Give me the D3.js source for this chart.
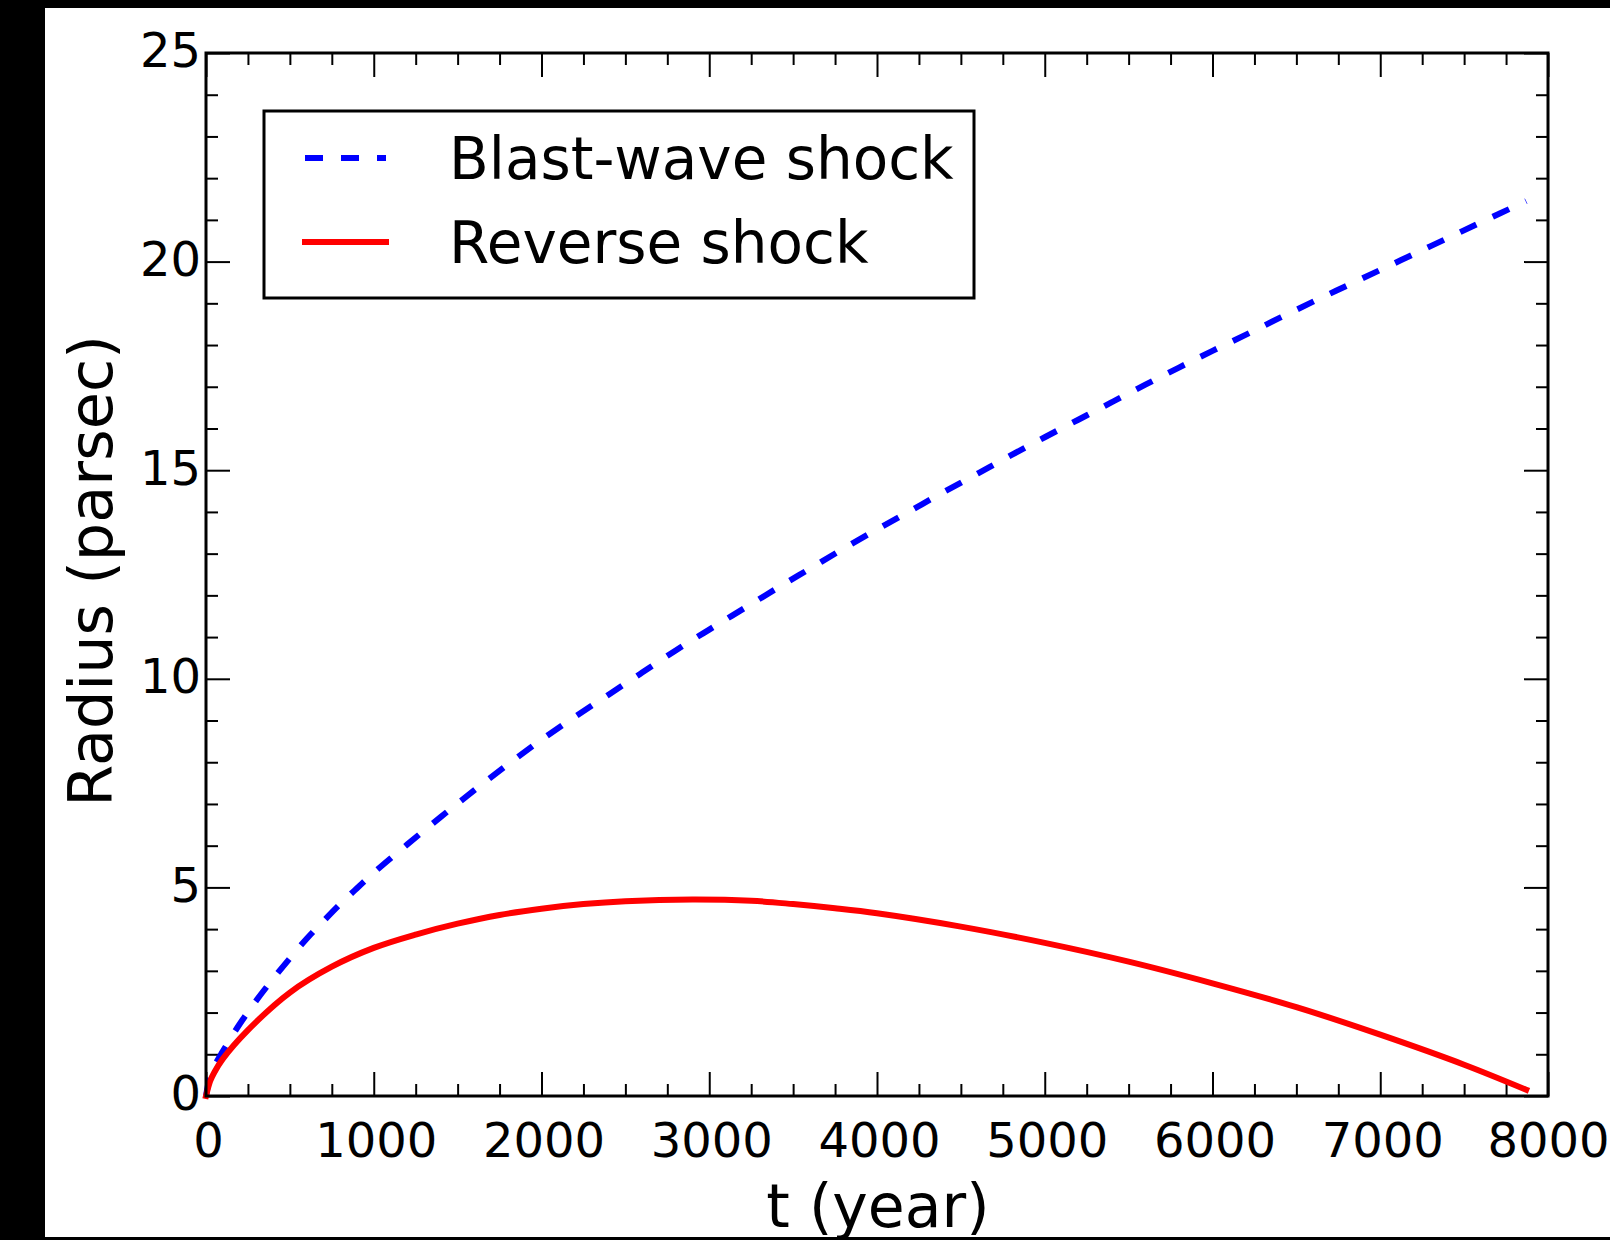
<!DOCTYPE html>
<html>
<head>
<meta charset="utf-8">
<script src="https://cdn.jsdelivr.net/npm/d3@7"></script>
<style>
  body { margin: 0; background: #000; }
  svg { display: block; }
</style>
</head>
<body>
<div id="chart"></div>
<script>
// donnees
const blastT = [0, 25, 50, 100, 200, 300, 400, 500, 600, 700, 800, 900, 1000, 1200, 1400, 1600, 1800, 2000,
    2200, 2400, 2600, 2800, 3000, 3200, 3400, 3600, 3800, 4000, 4200, 4400, 4600, 4800, 5000,
    5200, 5400, 5600, 5800, 6000, 6200, 6400, 6600, 6800, 7000, 7200, 7400, 7600, 7870];
const blastR = [0, 0.48, 0.72, 1.07, 1.72, 2.29, 2.81, 3.30, 3.77, 4.19, 4.60, 4.98, 5.35, 6.03, 6.69, 7.33, 7.95, 8.54,
    9.09, 9.62, 10.15, 10.68, 11.18, 11.67, 12.16, 12.64, 13.12, 13.58, 14.03, 14.48, 14.92, 15.36, 15.79,
    16.21, 16.63, 17.05, 17.46, 17.86, 18.25, 18.65, 19.04, 19.42, 19.80, 20.18, 20.56, 20.94, 21.45];

const reverseT = [0, 25, 50, 100, 250, 500, 750, 1000, 1250, 1500, 1750, 2000, 2250, 2500, 2900,
    3250, 3500, 3750, 4000, 4500, 5000, 5500, 6000, 6500, 7000, 7500, 7870];
const reverseR = [0, 0.36, 0.57, 0.89, 1.58, 2.48, 3.10, 3.55, 3.87, 4.13, 4.34, 4.49, 4.60, 4.67, 4.71,
    4.68, 4.60, 4.50, 4.38, 4.06, 3.67, 3.22, 2.70, 2.13, 1.47, 0.75, 0.15];

const xTicks = [0, 1000, 2000, 3000, 4000, 5000, 6000, 7000, 8000];
const yTicks = [0, 5, 10, 15, 20, 25];
const legendLabels = ["Blast-wave shock", "Reverse shock"];

// taille
const W = 1610, H = 1240;
const plot = { left: 206, right: 1548, top: 53, bottom: 1096 };
const font = "DejaVu Sans, sans-serif";

var svg = d3.select("#chart").append("svg")
    .attr("width", W)
    .attr("height", H);

// fond blanc (bord noir a gauche / haut / bas)
svg.append("rect")
    .attr("x", 45).attr("y", 8)
    .attr("width", W - 45).attr("height", 1237 - 8)
    .style("fill", "#fff");

var x = d3.scaleLinear().domain([0, 8000]).range([plot.left, plot.right]);
var y = d3.scaleLinear().domain([0, 25]).range([plot.bottom, plot.top]);

var xMinor = d3.range(0, 8001, 250).filter(d => d % 1000 != 0);
var yMinor = d3.range(0, 26, 1).filter(d => d % 5 != 0);

function styleAxis(g, labels) {
    g.select(".domain").remove();
    g.selectAll(".tick line").style("stroke", "#000").style("stroke-width", 2);
    g.selectAll("text")
        .style("font-family", font)
        .style("font-size", "48px")
        .style("fill", "#000");
    if (!labels) g.selectAll("text").remove();
}

// axes : bas
svg.append("g")
    .attr("transform", `translate(0,${plot.bottom})`)
    .call(d3.axisBottom(x).tickValues(xTicks).tickSize(-24).tickPadding(27).tickFormat(d3.format("d")))
    .call(g => styleAxis(g, true))
    .call(g => g.selectAll("text").attr("dx", d => d == 8000 ? 0 : 2));
svg.append("g")
    .attr("transform", `translate(0,${plot.bottom})`)
    .call(d3.axisBottom(x).tickValues(xMinor).tickSize(-12).tickFormat(""))
    .call(g => styleAxis(g, false));
// haut
svg.append("g")
    .attr("transform", `translate(0,${plot.top})`)
    .call(d3.axisTop(x).tickValues(xTicks).tickSize(-24).tickFormat(""))
    .call(g => styleAxis(g, false));
svg.append("g")
    .attr("transform", `translate(0,${plot.top})`)
    .call(d3.axisTop(x).tickValues(xMinor).tickSize(-12).tickFormat(""))
    .call(g => styleAxis(g, false));
// gauche
svg.append("g")
    .attr("transform", `translate(${plot.left},0)`)
    .call(d3.axisLeft(y).tickValues(yTicks).tickSize(-24).tickPadding(5).tickFormat(d3.format("d")))
    .call(g => styleAxis(g, true))
    .call(g => g.selectAll("text").attr("dy", "0.29em"));
svg.append("g")
    .attr("transform", `translate(${plot.left},0)`)
    .call(d3.axisLeft(y).tickValues(yMinor).tickSize(-12).tickFormat(""))
    .call(g => styleAxis(g, false));
// droite
svg.append("g")
    .attr("transform", `translate(${plot.right},0)`)
    .call(d3.axisRight(y).tickValues(yTicks).tickSize(-24).tickFormat(""))
    .call(g => styleAxis(g, false));
svg.append("g")
    .attr("transform", `translate(${plot.right},0)`)
    .call(d3.axisRight(y).tickValues(yMinor).tickSize(-12).tickFormat(""))
    .call(g => styleAxis(g, false));

// courbes
var line = d3.line()
    .x(d => x(d[0]))
    .y(d => y(d[1]))
    .curve(d3.curveCatmullRom.alpha(0.5));

svg.append("path")
    .datum(blastT.map((t, i) => [t, blastR[i]]))
    .attr("d", line)
    .style("fill", "none")
    .style("stroke", "#0000ff")
    .style("stroke-width", 6)
    .style("stroke-dasharray", "18,18");

svg.append("path")
    .datum(reverseT.map((t, i) => [t, reverseR[i]]))
    .attr("d", line)
    .style("fill", "none")
    .style("stroke", "#ff0000")
    .style("stroke-width", 6)
    .style("stroke-linecap", "square");

// cadre
svg.append("rect")
    .attr("x", plot.left).attr("y", plot.top)
    .attr("width", plot.right - plot.left)
    .attr("height", plot.bottom - plot.top)
    .style("fill", "none")
    .style("stroke", "#000")
    .style("stroke-width", 3);

// titres des axes
svg.append("text")
    .attr("x", 878)
    .attr("y", 1227)
    .attr("text-anchor", "middle")
    .style("font-family", font)
    .style("font-size", "60px")
    .text("t (year)");

svg.append("text")
    .attr("transform", "translate(112,571) rotate(-90)")
    .attr("text-anchor", "middle")
    .style("font-family", font)
    .style("font-size", "60.5px")
    .text("Radius (parsec)");

///// Legende ////
var legend = svg.append("g");
legend.append("rect")
    .attr("x", 264).attr("y", 111)
    .attr("width", 710).attr("height", 187)
    .style("fill", "#fff")
    .style("stroke", "#000")
    .style("stroke-width", 3);

var legendColors = ["#0000ff", "#ff0000"];
var legendDash = ["18,18", null];
var legendCap = ["butt", "square"];
legendLabels.forEach(function(label, i) {
    var ly = 158 + i * 84;
    legend.append("line")
        .attr("x1", 305).attr("x2", 386)
        .attr("y1", ly).attr("y2", ly)
        .style("stroke", legendColors[i])
        .style("stroke-width", 6)
        .style("stroke-linecap", legendCap[i])
        .style("stroke-dasharray", legendDash[i]);
    legend.append("text")
        .attr("x", 449)
        .attr("y", ly + 21)
        .style("font-family", font)
        .style("font-size", "58px")
        .text(label);
});
</script>
</body>
</html>
